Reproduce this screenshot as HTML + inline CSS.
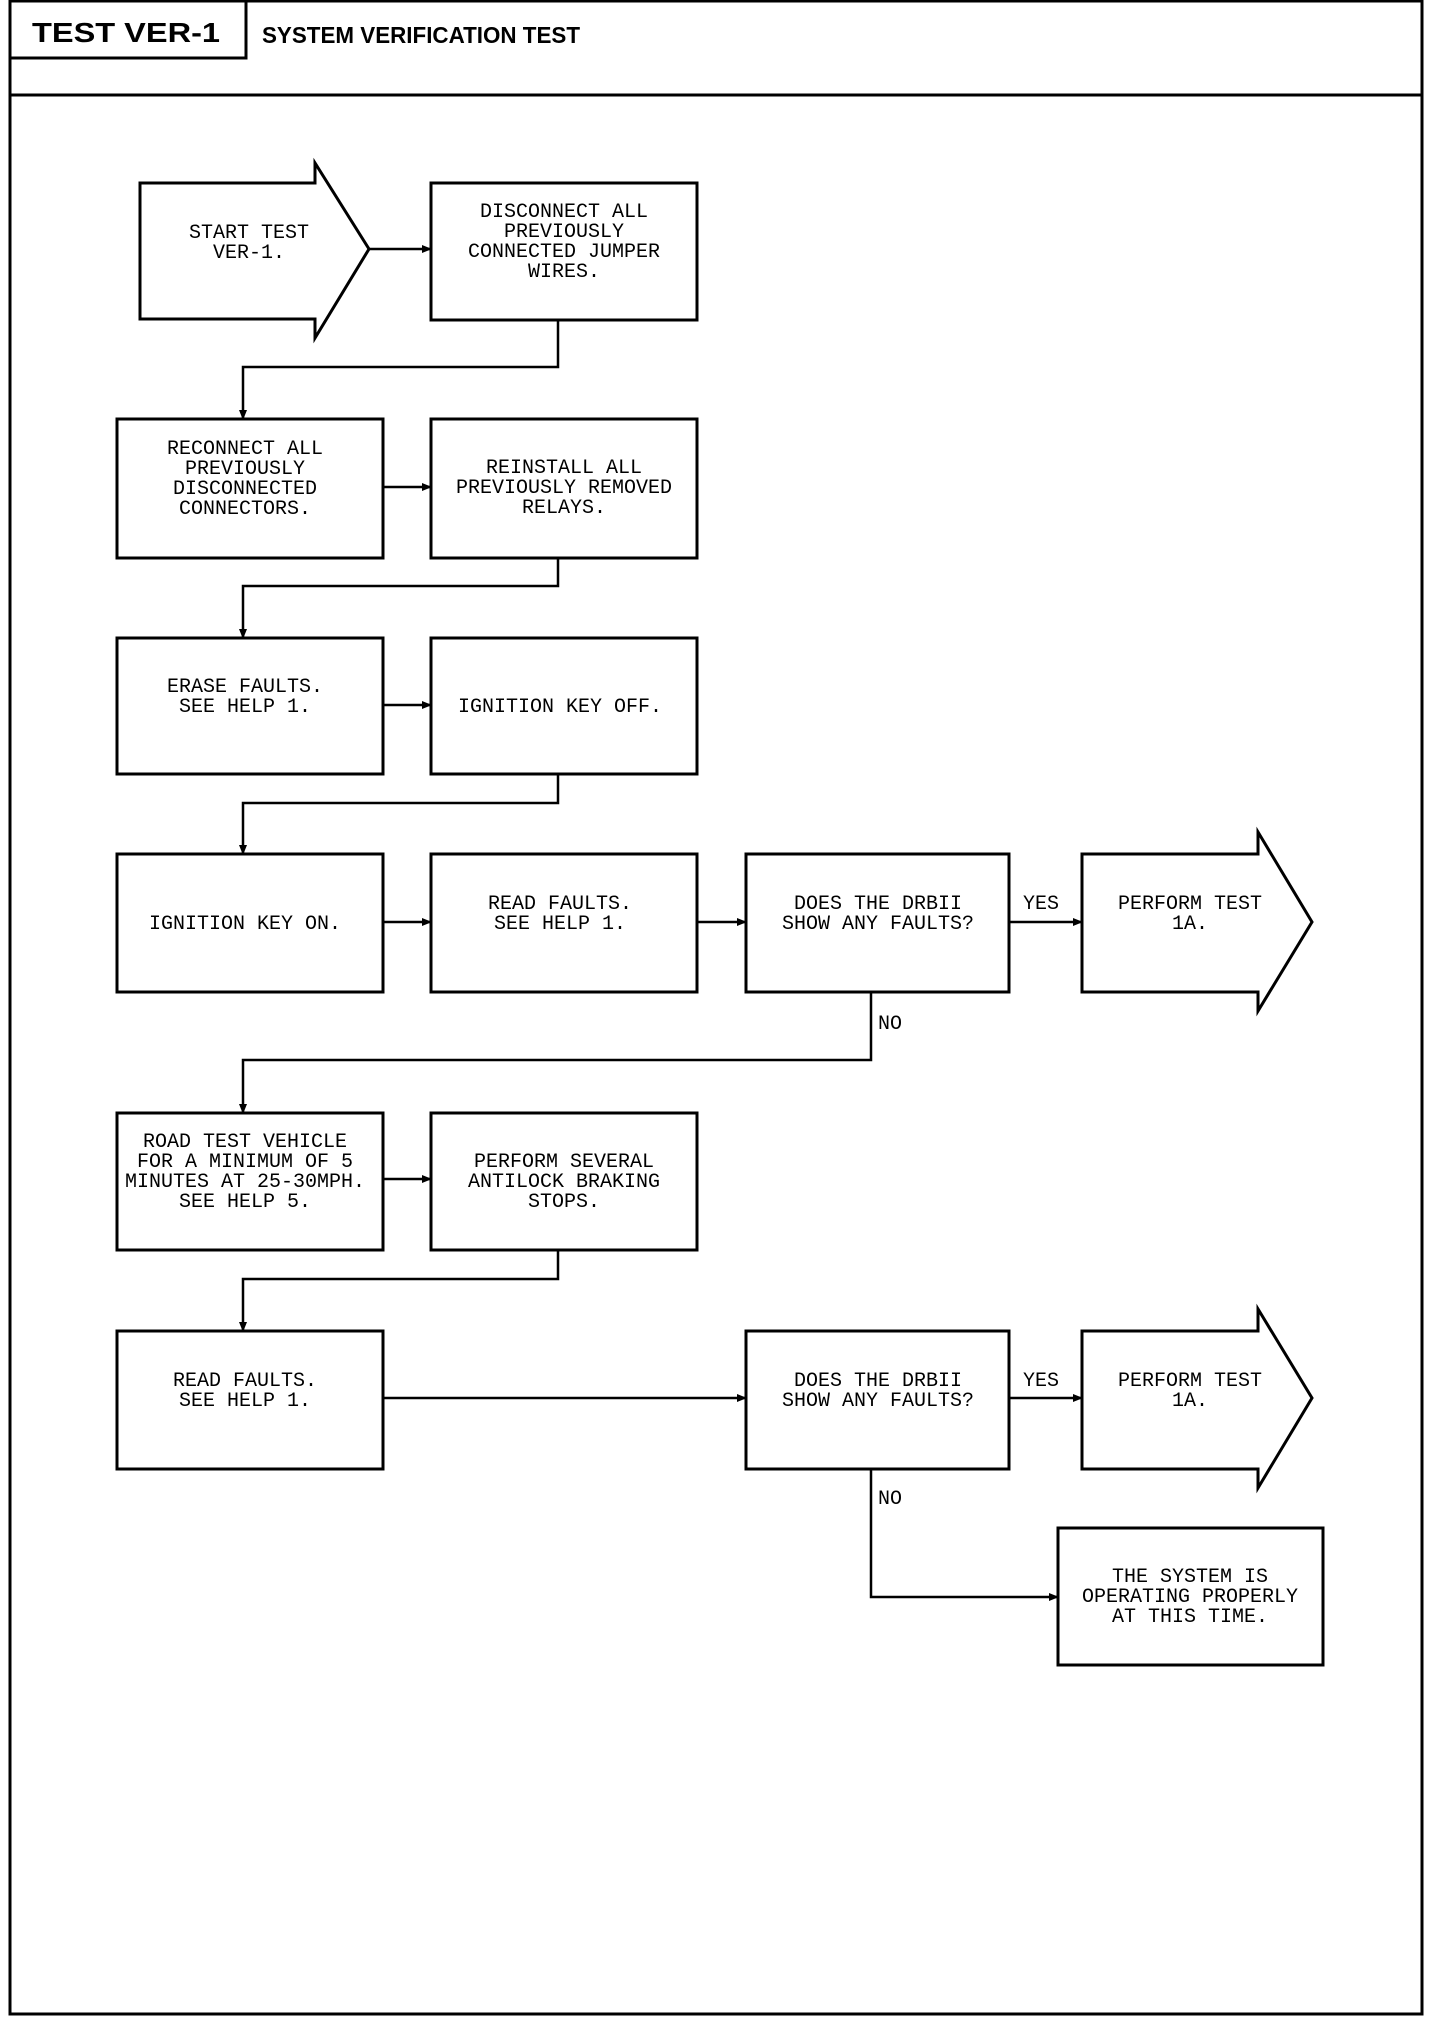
<!DOCTYPE html>
<html><head><meta charset="utf-8"><style>
html,body{margin:0;padding:0;background:#fff;}
svg{display:block;}
.t{font-family:"Liberation Mono",monospace;font-size:20px;fill:#000;text-anchor:middle;}
</style></head><body>
<svg width="1456" height="2018" viewBox="0 0 1456 2018" xmlns="http://www.w3.org/2000/svg">
<defs><marker id="a" markerWidth="10" markerHeight="8" refX="9" refY="4" orient="auto" markerUnits="userSpaceOnUse"><path d="M0,0 L10,4 L0,8 z" fill="#000"/></marker></defs>
<g fill="none" stroke="#000" stroke-width="3">
<rect x="10" y="1" width="1412" height="2013"/>
<line x1="10" y1="95" x2="1422" y2="95"/>
<rect x="10" y="1" width="236" height="57"/>
<!-- start arrow -->
<polygon points="140,183 315,183 315,163 369,249 315,338 315,319 140,319"/>
<rect x="431" y="183" width="266" height="137"/>
<rect x="117" y="419" width="266" height="139"/>
<rect x="431" y="419" width="266" height="139"/>
<rect x="117" y="638" width="266" height="136"/>
<rect x="431" y="638" width="266" height="136"/>
<rect x="117" y="854" width="266" height="138"/>
<rect x="431" y="854" width="266" height="138"/>
<rect x="746" y="854" width="263" height="138"/>
<polygon points="1082,854 1258,854 1258,832 1312,922 1258,1011 1258,992 1082,992"/>
<rect x="117" y="1113" width="266" height="137"/>
<rect x="431" y="1113" width="266" height="137"/>
<rect x="117" y="1331" width="266" height="138"/>
<rect x="746" y="1331" width="263" height="138"/>
<polygon points="1082,1331 1258,1331 1258,1309 1312,1398 1258,1488 1258,1469 1082,1469"/>
<rect x="1058" y="1528" width="265" height="137"/>
</g>
<g fill="none" stroke="#000" stroke-width="2.5">
<line x1="369" y1="249" x2="431" y2="249" marker-end="url(#a)"/>
<polyline points="558,320 558,367 243,367 243,419" marker-end="url(#a)"/>
<line x1="383" y1="487" x2="431" y2="487" marker-end="url(#a)"/>
<polyline points="558,558 558,586 243,586 243,638" marker-end="url(#a)"/>
<line x1="383" y1="705" x2="431" y2="705" marker-end="url(#a)"/>
<polyline points="558,774 558,803 243,803 243,854" marker-end="url(#a)"/>
<line x1="383" y1="922" x2="431" y2="922" marker-end="url(#a)"/>
<line x1="697" y1="922" x2="746" y2="922" marker-end="url(#a)"/>
<line x1="1009" y1="922" x2="1082" y2="922" marker-end="url(#a)"/>
<polyline points="871,992 871,1060 243,1060 243,1113" marker-end="url(#a)"/>
<line x1="383" y1="1179" x2="431" y2="1179" marker-end="url(#a)"/>
<polyline points="558,1250 558,1279 243,1279 243,1331" marker-end="url(#a)"/>
<line x1="383" y1="1398" x2="746" y2="1398" marker-end="url(#a)"/>
<line x1="1009" y1="1398" x2="1082" y2="1398" marker-end="url(#a)"/>
<polyline points="871,1469 871,1597 1058,1597" marker-end="url(#a)"/>
</g>
<text x="32" y="42" font-family="Liberation Sans,sans-serif" font-weight="bold" font-size="28" textLength="188" lengthAdjust="spacingAndGlyphs">TEST VER-1</text>
<text x="262" y="43" font-family="Liberation Sans,sans-serif" font-weight="bold" font-size="23" textLength="318" lengthAdjust="spacingAndGlyphs">SYSTEM VERIFICATION TEST</text>
<g class="t">
<text x="249" y="238">START TEST</text><text x="249" y="258">VER-1.</text>
<text x="564" y="217">DISCONNECT ALL</text><text x="564" y="237">PREVIOUSLY</text><text x="564" y="257">CONNECTED JUMPER</text><text x="564" y="277">WIRES.</text>
<text x="245" y="454">RECONNECT ALL</text><text x="245" y="474">PREVIOUSLY</text><text x="245" y="494">DISCONNECTED</text><text x="245" y="514">CONNECTORS.</text>
<text x="564" y="473">REINSTALL ALL</text><text x="564" y="493">PREVIOUSLY REMOVED</text><text x="564" y="513">RELAYS.</text>
<text x="245" y="692">ERASE FAULTS.</text><text x="245" y="712">SEE HELP 1.</text>
<text x="560" y="712">IGNITION KEY OFF.</text>
<text x="245" y="929">IGNITION KEY ON.</text>
<text x="560" y="909">READ FAULTS.</text><text x="560" y="929">SEE HELP 1.</text>
<text x="878" y="909">DOES THE DRBII</text><text x="878" y="929">SHOW ANY FAULTS?</text>
<text x="1190" y="909">PERFORM TEST</text><text x="1190" y="929">1A.</text>
<text x="1041" y="909">YES</text>
<text x="890" y="1029">NO</text>
<text x="245" y="1147">ROAD TEST VEHICLE</text><text x="245" y="1167">FOR A MINIMUM OF 5</text><text x="245" y="1187">MINUTES AT 25-30MPH.</text><text x="245" y="1207">SEE HELP 5.</text>
<text x="564" y="1167">PERFORM SEVERAL</text><text x="564" y="1187">ANTILOCK BRAKING</text><text x="564" y="1207">STOPS.</text>
<text x="245" y="1386">READ FAULTS.</text><text x="245" y="1406">SEE HELP 1.</text>
<text x="878" y="1386">DOES THE DRBII</text><text x="878" y="1406">SHOW ANY FAULTS?</text>
<text x="1190" y="1386">PERFORM TEST</text><text x="1190" y="1406">1A.</text>
<text x="1041" y="1386">YES</text>
<text x="890" y="1504">NO</text>
<text x="1190" y="1582">THE SYSTEM IS</text><text x="1190" y="1602">OPERATING PROPERLY</text><text x="1190" y="1622">AT THIS TIME.</text>
</g>
</svg>
</body></html>
